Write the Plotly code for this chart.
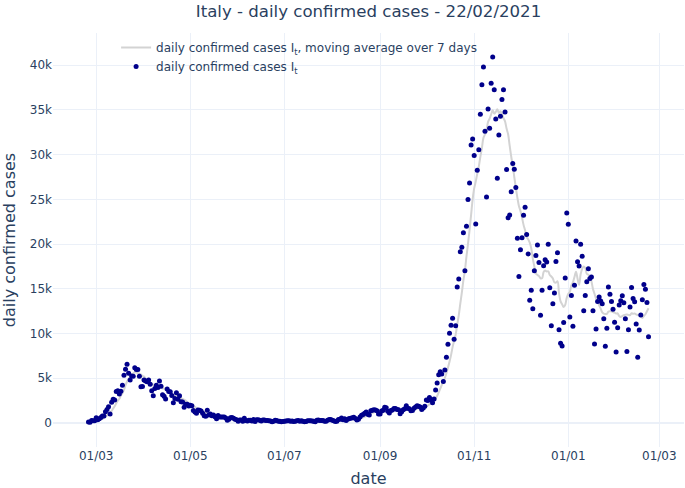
import pandas as pd
import plotly.graph_objects as go

# daily new confirmed cases in Italy, starting 2020-02-25
start_date = "2020-02-25"
feb_2020 = [93, 78, 250, 238, 240]
mar_2020 = [566, 342, 466, 587, 769, 778, 1247, 1492, 1797, 977, 2313, 2651, 2547, 3497, 3590, 3233,
            3526, 4207, 5322, 5986, 6557, 5560, 4789, 5249, 5210, 6153, 5959, 5974, 5217, 4050, 4053]
apr_2020 = [4782, 4668, 4585, 4805, 4316, 3599, 3039, 3836, 4204, 3951, 4694, 4092, 3153, 2972, 2667,
            3786, 3493, 3491, 3047, 2256, 2729, 3370, 2646, 3021, 2357, 2324, 1739, 2091, 2086, 1872]
may_2020 = [1965, 1900, 1389, 1221, 1075, 1444, 1401, 1327, 1083, 802, 744, 1402, 888, 992, 789, 875,
            675, 451, 813, 665, 642, 652, 669, 531, 300, 397, 584, 593, 516, 416, 355]
jun_2020 = [178, 318, 321, 177, 518, 270, 197, 280, 283, 202, 379, 163, 346, 338, 301, 210, 329, 333,
            251, 262, 224, 218, 122, 190, 296, 259, 175, 174, 126, 142]
jul_2020 = [187, 201, 223, 235, 192, 208, 138, 193, 229, 276, 188, 234, 169, 114, 162, 230, 233, 249,
            219, 190, 129, 282, 306, 252, 275, 255, 170, 181, 289, 386, 379]
aug_2020 = [295, 239, 159, 190, 384, 402, 552, 347, 463, 259, 412, 481, 523, 574, 629, 479, 320, 403,
            642, 845, 947, 1071, 1210, 953, 878, 1367, 1411, 1460, 1444, 1365, 996]
sep_2020 = [978, 1326, 1397, 1733, 1695, 1297, 1108, 1370, 1434, 1597, 1616, 1501, 1458, 1008, 1229,
            1452, 1585, 1907, 1638, 1587, 1350, 1392, 1640, 1786, 1912, 1869, 1766, 1494, 1648, 1851]
oct_2020 = [2548, 2499, 2844, 2578, 2257, 2677, 3678, 4458, 5372, 5724, 5456, 4619, 5901, 7332, 8804,
            10010, 10925, 11705, 9338, 10874, 15199, 16079, 19143, 19644, 21273, 17012, 21994, 24991,
            26831, 31084, 31758]
nov_2020 = [29907, 22253, 28244, 30550, 34505, 37809, 39811, 32616, 25271, 35098, 32961, 37978, 40902,
            37255, 33979, 27354, 32191, 34283, 36176, 37242, 34767, 28337, 22930, 23232, 25853, 29003,
            28352, 26323, 20648, 16377]
dec_2020 = [19350, 20709, 23225, 24099, 21052, 18887, 13720, 14842, 12756, 16999, 18727, 19903, 17938,
            12030, 14844, 17572, 18236, 17992, 19974, 15104, 10872, 13318, 14522, 18040, 19037, 10407,
            8913, 8585, 11210, 16202, 23477]
jan_2021 = [22211, 11831, 14245, 10800, 15378, 20331, 18020, 17533, 19978, 18627, 12532, 14242, 15774,
            17246, 16146, 16310, 12545, 8824, 10497, 13571, 14078, 13633, 13331, 11629, 8561, 10593,
            15204, 14372, 13574, 12715, 11252]
feb_2021 = [7925, 10630, 13189, 13659, 14218, 13442, 11641, 7970, 10404, 12956, 15146, 13908, 13532,
            11068, 7351, 10386, 12074, 13762, 15479, 14931, 13452, 9630]

cases = (feb_2020 + mar_2020 + apr_2020 + may_2020 + jun_2020 + jul_2020 + aug_2020 + sep_2020
         + oct_2020 + nov_2020 + dec_2020 + jan_2021 + feb_2021)
df = pd.DataFrame({"cases": cases}, index=pd.date_range(start_date, periods=len(cases), freq="D"))
df["avg7"] = df["cases"].rolling(7).mean()

font_family = "DejaVu Sans"

fig = go.Figure()
fig.add_trace(go.Scatter(x=df.index, y=df["avg7"], mode="lines", line_shape="spline",
                         name="daily confirmed cases I<sub>t</sub>, moving average over 7 days",
                         line=dict(color="lightgray", width=2)))
fig.add_trace(go.Scatter(x=df.index, y=df["cases"], mode="markers",
                         name="daily confirmed cases I<sub>t</sub>",
                         marker=dict(color="darkblue", size=5)))

fig.update_layout(
    template="plotly_white",
    width=685, height=488,
    margin=dict(l=53, r=1, t=33, b=41, autoexpand=False),
    font=dict(family=font_family, color="#2a3f5f", size=12),
    title=dict(text="Italy - daily confirmed cases - 22/02/2021", x=0.5, xref="paper",
               y=0.99, yanchor="top", font=dict(size=16.6)),
    legend=dict(x=0.1, y=1.0, xanchor="left", yanchor="top", bgcolor="rgba(0,0,0,0)",
                font=dict(size=12)),
    xaxis=dict(title=dict(text="date", font=dict(size=16)), tickformat="%d/%m", dtick="M2",
               tick0="2020-01-01", range=["2020-02-02", "2021-03-17"], automargin=False),
    yaxis=dict(title=dict(text="daily confirmed cases", font=dict(size=16)),
               range=[-2700, 43600], automargin=False),
)

# page body has a default margin; drop it so the figure sits at the window corner
fig.write_html("out.html", config={"displayModeBar": False},
               post_script="document.body.style.margin='0';")
